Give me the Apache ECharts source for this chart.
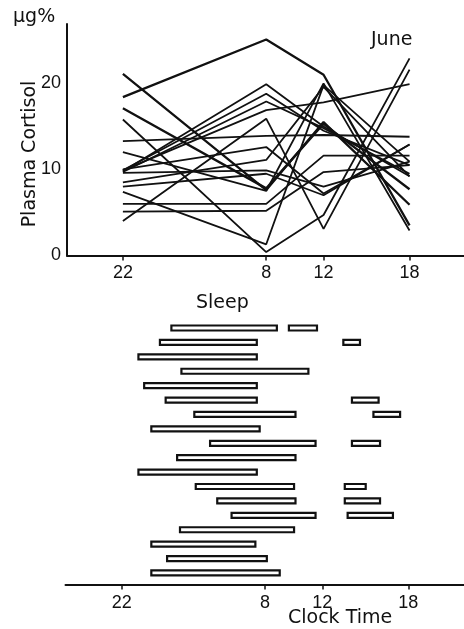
<!DOCTYPE html>
<html>
<head>
<meta charset="utf-8">
<script src="https://cdn.jsdelivr.net/npm/echarts@6/dist/echarts.min.js"></script>
<style>
html,body{margin:0;padding:0;background:#fff;}
#c{width:464px;height:629px;}
</style>
</head>
<body>
<div id="c"></div>
<script>
// clock time counted in hours from midnight of the first day: 22 -> 22, 8 -> 32, 12 -> 36, 18 -> 42
var sampleHours = [22, 32, 36, 42];
var tickLabels = ['22', '8', '12', '18'];
var yTicks = [0, 10, 20];

// plasma cortisol (µg%) of each subject at 22, 8, 12, 18
var cortisol = [
  [18.4, 25.1, 21.0, 3.5],
  [21.1, 7.6, 15.5, 5.9],
  [17.1, 7.8, 15.3, 7.7],
  [15.8, 0.4, 4.7, 22.9],
  [9.8, 19.9, 15.0, 9.2],
  [9.9, 18.8, 14.5, 10.5],
  [9.7, 17.9, 14.8, 9.5],
  [9.9, 16.9, 17.8, 19.9],
  [4.0, 15.9, 3.1, 21.6],
  [13.3, 13.9, 14.0, 13.8],
  [12.0, 7.5, 20.0, 2.9],
  [8.5, 11.1, 19.6, 9.2],
  [8.0, 9.5, 7.0, 12.9],
  [7.4, 1.3, 19.8, 10.9],
  [6.0, 6.0, 11.6, 11.6],
  [5.1, 5.2, 9.7, 10.5],
  [9.6, 9.9, 8.0, 10.9],
  [10.0, 12.6, 7.2, 12.9]
];

// night sleep of each subject (same hour scale)
var sleepStart = [25.4, 24.6, 23.1, 26.1, 23.5, 25.0, 27.0, 24.0, 28.1, 25.8, 23.1, 27.1, 28.6, 29.6, 26.0, 24.0, 25.1, 24.0];
var sleepEnd   = [32.9, 31.5, 31.5, 35.1, 31.5, 31.5, 34.2, 31.7, 35.6, 34.2, 31.5, 34.1, 34.2, 35.6, 34.1, 31.4, 32.2, 33.1];
// day naps: [subject row, start, end]
var naps = [
  [0, 33.6, 35.7],
  [1, 37.4, 38.7],
  [5, 38.0, 40.0],
  [6, 39.5, 41.5],
  [8, 38.0, 40.1],
  [11, 37.5, 39.1],
  [12, 37.5, 40.1],
  [13, 37.7, 41.0]
];

var chart = echarts.init(document.getElementById('c'));

var sleepData = [];
for (var i = 0; i < sleepStart.length; i++) {
  sleepData.push([i, sleepStart[i], sleepEnd[i]]);
}
for (var j = 0; j < naps.length; j++) {
  sleepData.push(naps[j]);
}

function hourLabel(v) {
  var k = sampleHours.indexOf(Math.round(v));
  return k >= 0 ? tickLabels[k] : '';
}

var series = cortisol.map(function (vals, n) {
  return {
    type: 'line',
    xAxisIndex: 0,
    yAxisIndex: 0,
    symbol: 'none',
    silent: true,
    lineStyle: {color: '#111', width: (n < 3 ? 2.3 : 1.8)},
    data: sampleHours.map(function (h, k) { return [h, vals[k]]; })
  };
});

series.push({
  type: 'custom',
  xAxisIndex: 1,
  yAxisIndex: 1,
  silent: true,
  renderItem: function (params, api) {
    var a = api.coord([api.value(1), api.value(0)]);
    var b = api.coord([api.value(2), api.value(0)]);
    return {
      type: 'rect',
      shape: {x: a[0] + 1, y: a[1] - 2.5, width: b[0] - a[0] - 2, height: 5},
      style: {fill: '#fff', stroke: '#111', lineWidth: 2.2}
    };
  },
  encode: {x: [1, 2], y: 0},
  data: sleepData
});

var axisFont = {color: '#111', fontSize: 18, fontFamily: 'Liberation Sans'};

var option = {
  animation: false,
  backgroundColor: '#fff',
  grid: [
    {left: 67, top: 24, width: 397, height: 231.5},
    {left: 65.5, top: 320.8, width: 398.5, height: 263.7}
  ],
  xAxis: [
    {
      type: 'value', gridIndex: 0, min: 18.1, max: 45.8,
      axisLine: {show: true, onZero: false, lineStyle: {color: '#111', width: 2}},
      axisTick: {show: true, customValues: sampleHours, length: 5, lineStyle: {color: '#111', width: 1.5}},
      axisLabel: Object.assign({customValues: sampleHours, margin: 9, formatter: hourLabel}, axisFont),
      splitLine: {show: false}
    },
    {
      type: 'value', gridIndex: 1, min: 18.08, max: 45.89,
      axisLine: {show: true, onZero: false, lineStyle: {color: '#111', width: 2}},
      axisTick: {show: true, customValues: sampleHours, length: 5, lineStyle: {color: '#111', width: 1.5}},
      axisLabel: Object.assign({customValues: sampleHours, margin: 10, formatter: hourLabel}, axisFont),
      splitLine: {show: false}
    }
  ],
  yAxis: [
    {
      type: 'value', gridIndex: 0, min: 0, max: 26.9,
      axisLine: {show: true, lineStyle: {color: '#111', width: 2}},
      axisTick: {show: false},
      axisLabel: Object.assign({customValues: yTicks, margin: 6}, axisFont),
      splitLine: {show: false}
    },
    {
      type: 'value', gridIndex: 1, min: -0.5, max: 17.8, inverse: true, show: false
    }
  ],
  graphic: [
    {type: 'text', left: 13, top: 8, style: {text: 'μg%', font: '19px DejaVu Sans', fill: '#111'}},
    {type: 'text', x: 30, y: 154, rotation: Math.PI / 2,
      style: {text: 'Plasma Cortisol', font: '19px DejaVu Sans', fill: '#111', align: 'center', verticalAlign: 'middle'}},
    {type: 'text', left: 371, top: 31, style: {text: 'June', font: '500 19px DejaVu Sans', fill: '#111'}},
    {type: 'text', left: 196, top: 294, style: {text: 'Sleep', font: '19px DejaVu Sans', fill: '#111'}},
    {type: 'text', left: 288, top: 609, style: {text: 'Clock Time', font: '19px DejaVu Sans', fill: '#111'}}
  ],
  series: series
};

chart.setOption(option);
</script>
</body>
</html>
